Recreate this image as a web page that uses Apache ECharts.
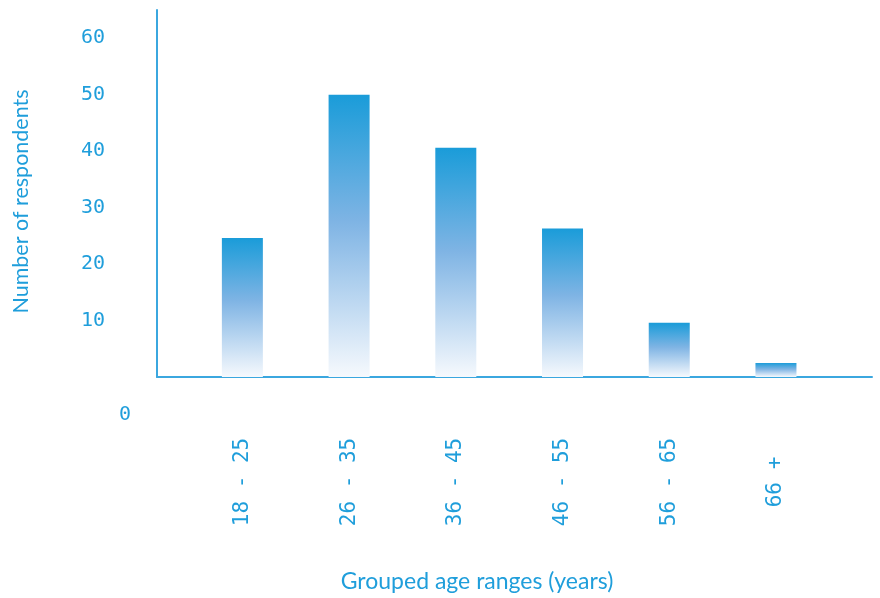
<!DOCTYPE html>
<html>
<head>
<meta charset="utf-8">
<script src="https://cdn.jsdelivr.net/npm/echarts@6/dist/echarts.min.js"></script>
<style>
html,body{margin:0;padding:0;background:#fff;}
#chart{width:880px;height:598px;}
</style>
</head>
<body>
<div id="chart"></div>
<script>
const categories = ['18 - 25', '26 - 35', '36 - 45', '46 - 55', '56 - 65', '66 +'];
const respondents = [24.6, 50, 40.6, 26.3, 9.6, 2.5];
const yTicks = [0, 10, 20, 30, 40, 50, 60];

const blue = '#1f9edb';
const axisBlue = '#3ba7df';

const chart = echarts.init(document.getElementById('chart'), null, {renderer: 'canvas'});
chart.setOption({
  animation: false,
  grid: {left: 157, right: 8, top: 10, bottom: 221, containLabel: false, outerBoundsMode: 'none'},
  xAxis: {
    type: 'value',
    min: -0.8,
    max: 5.9,
    splitLine: {show: false},
    axisTick: {show: false},
    axisLine: {show: true, onZero: false, lineStyle: {color: axisBlue, width: 2}},
    axisLabel: {
      customValues: categories.map((c, i) => i),
      formatter: v => categories[Math.round(v)] || '',
      rotate: 90,
      align: 'center',
      verticalAlign: 'middle',
      margin: 105,
      color: blue,
      fontFamily: 'DejaVu Sans Mono',
      fontSize: 21
    },
    name: 'Grouped age ranges (years)',
    nameLocation: 'middle',
    nameGap: 193,
    nameTextStyle: {color: blue, fontFamily: 'Lato', fontSize: 23, padding: [0, 75, 0, 0]}
  },
  yAxis: {
    type: 'value',
    min: 0,
    max: 65,
    interval: 10,
    splitLine: {show: false},
    axisTick: {show: false},
    axisLine: {show: true, onZero: false, lineStyle: {color: axisBlue, width: 2}},
    axisLabel: {
      showMaxLabel: false,
      margin: 26,
      color: blue,
      fontFamily: 'DejaVu Sans Mono',
      fontSize: 20,
      formatter: v => yTicks.indexOf(v) < 0 ? '' : (v === 0 ? '{z|0}' : '{n|' + v + '}'),
      rich: {
        n: {padding: [0, 26, 0, 0], color: blue, fontFamily: 'DejaVu Sans Mono', fontSize: 20},
        z: {padding: [76, 0, 0, 0], color: blue, fontFamily: 'DejaVu Sans Mono', fontSize: 20}
      }
    },
    name: 'Number of respondents',
    nameLocation: 'middle',
    nameGap: 125,
    nameTextStyle: {color: blue, fontFamily: 'Lato', fontSize: 21.5, padding: [0, 16, 0, 0]}
  },
  series: [{
    type: 'bar',
    data: respondents.map((v, i) => [i, v]),
    barWidth: 41,
    itemStyle: {
      color: new echarts.graphic.LinearGradient(0, 0, 0, 1, [
        {offset: 0, color: '#1a9cd9'},
        {offset: 0.45, color: '#7fb4e4'},
        {offset: 1, color: '#f6f9fd'}
      ])
    }
  }]
});
</script>
</body>
</html>
